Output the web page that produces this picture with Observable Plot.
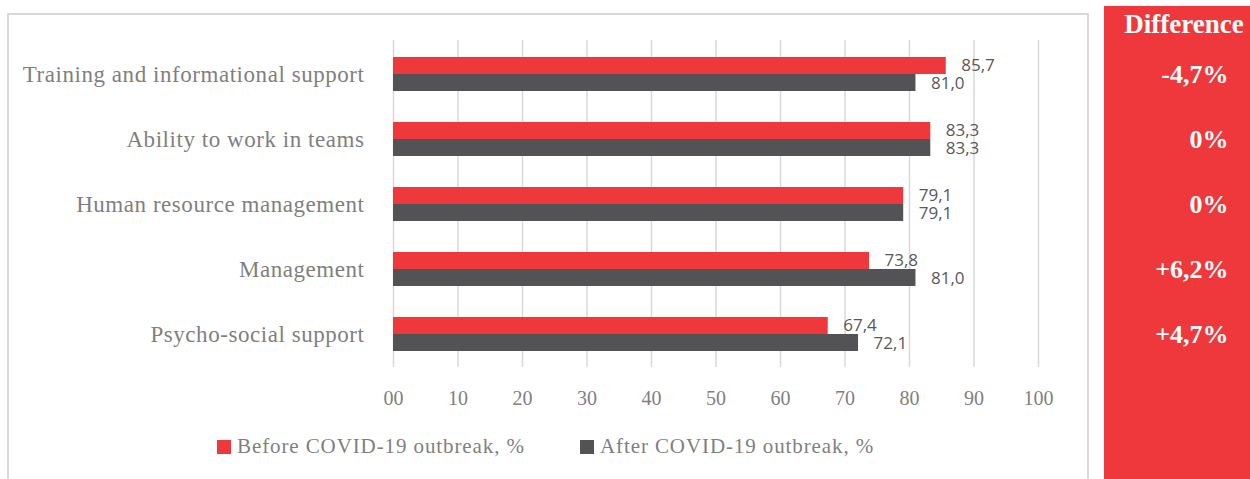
<!DOCTYPE html>
<html>
<head>
<meta charset="utf-8">
<script src="https://cdn.jsdelivr.net/npm/d3@7"></script>
<script src="https://cdn.jsdelivr.net/npm/@observablehq/plot@0.6"></script>
<style>
  html, body { margin: 0; padding: 0; background: #fff; }
  #wrap { position: relative; width: 1250px; height: 479px; overflow: hidden; background: #fff; }
  #frame { position: absolute; left: 7px; top: 13px; width: 1082px; height: 480px; border: 2px solid #d9d9d9; box-sizing: border-box; }
  #panel { position: absolute; left: 1104px; top: 6px; width: 146px; height: 473px; background: #ee383c; }
  #diffhead { position: absolute; left: 1104px; top: 9px; width: 160px; text-align: center; color: #fff; font: bold 27px "Liberation Serif", serif; }
  #chart { position: absolute; left: 0; top: 0; }
  .legend { position: absolute; top: 434px; font: 21px "Liberation Serif", serif; letter-spacing: 0.9px; color: #7f7f7f; display: flex; align-items: center; white-space: nowrap; }
  .sw { display: inline-block; width: 14px; height: 14px; margin-right: 6px; }
</style>
</head>
<body>
<div id="wrap">
  <div id="frame"></div>
  <div id="panel"></div>
  <div id="diffhead">Difference</div>
  <div id="chart"></div>
  <div class="legend" style="left:217px"><span class="sw" style="background:#ee383c"></span>Before COVID-19 outbreak, %</div>
  <div class="legend" style="left:580px"><span class="sw" style="background:#535355"></span>After COVID-19 outbreak, %</div>
</div>
<script>
const categories = ["Training and informational support", "Ability to work in teams", "Human resource management", "Management", "Psycho-social support"];
const beforeValues = [85.7, 83.3, 79.1, 73.8, 67.4];
const afterValues = [81.0, 83.3, 79.1, 81.0, 72.1];
const differences = ["-4,7%", "0%", "0%", "+6,2%", "+4,7%"];
const xTicks = [0, 10, 20, 30, 40, 50, 60, 70, 80, 90, 100];
const xTickLabels = ["00", "10", "20", "30", "40", "50", "60", "70", "80", "90", "100"];

const RED = "#ee383c", DARK = "#535355";
const fmt = v => v.toFixed(1).replace(".", ",");

const before = categories.map((c, i) => ({category: c, value: beforeValues[i]}));
const after = categories.map((c, i) => ({category: c, value: afterValues[i]}));
const diffs = categories.map((c, i) => ({category: c, diff: differences[i]}));

const serif = "Liberation Serif";
const sans = "Open Sans";

const chart = Plot.plot({
  width: 1250,
  height: 479,
  marginLeft: 393,
  marginRight: 212,
  marginTop: 40,
  marginBottom: 112,
  style: {background: "transparent", color: "#7f7f7f", fontFamily: serif},
  x: {domain: [0, 100]},
  y: {domain: categories, paddingInner: 0.48, paddingOuter: 0.235},
  marks: [
    Plot.gridX({ticks: xTicks, stroke: "#d9d9d9", strokeOpacity: 1, strokeWidth: 1.5}),
    Plot.barX(before, {x: "value", y: "category", fill: RED, insetBottom: 17}),
    Plot.barX(after, {x: "value", y: "category", fill: DARK, insetTop: 17}),
    Plot.text(before, {x: "value", y: "category", text: d => fmt(d.value), dx: 15, dy: -9, textAnchor: "start", fill: "#595959", fontSize: 17, fontFamily: sans}),
    Plot.text(after, {x: "value", y: "category", text: d => fmt(d.value), dx: 15, dy: 9, textAnchor: "start", fill: "#595959", fontSize: 17, fontFamily: sans}),
    Plot.text(diffs, {y: "category", text: "diff", frameAnchor: "right", dx: 190, dy: 0, textAnchor: "end", fill: "#ffffff", fontSize: 26, fontWeight: "bold", fontFamily: serif}),
    Plot.axisY({tickSize: 0, tickPadding: 29, fontSize: 23, fontFamily: serif, label: null}),
    Plot.axisX({ticks: xTicks, tickFormat: d => xTickLabels[xTicks.indexOf(d)], tickSize: 0, tickPadding: 23, fontSize: 20, fontFamily: serif, label: null})
  ]
});
chart.querySelectorAll('[aria-label="y-axis tick label"] text').forEach(t => t.setAttribute("letter-spacing", "0.55"));
document.getElementById("chart").appendChild(chart);
</script>
</body>
</html>
